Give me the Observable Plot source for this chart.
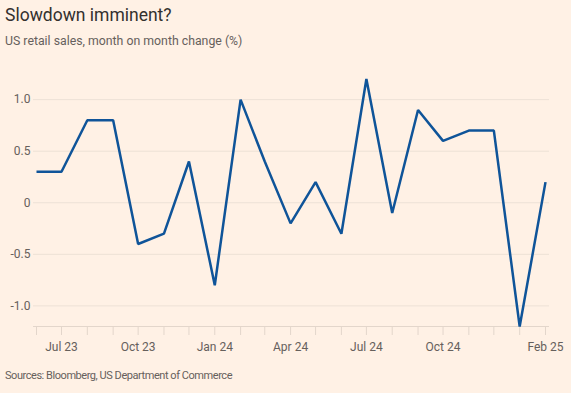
<!DOCTYPE html>
<html>
<head>
<meta charset="utf-8">
<script src="https://cdn.jsdelivr.net/npm/d3@7"></script>
<script src="https://cdn.jsdelivr.net/npm/@observablehq/plot@0.6"></script>
<style>
  html, body { margin: 0; padding: 0; background: #FFF1E5; }
  body { width: 571px; height: 393px; overflow: hidden; font-family: Roboto, "Open Sans", sans-serif; }
  #title { position: absolute; left: 5px; top: 5px; font-size: 17.5px; color: #33302E; }
  #subtitle { position: absolute; left: 5px; top: 34px; font-size: 12.3px; color: #66605C; }
  #chart { position: absolute; left: 0; top: 60px; }
  #caption { position: absolute; left: 5px; top: 369px; font-size: 11px; letter-spacing: -0.45px; color: #66605C; }
</style>
</head>
<body>
<div id="title">Slowdown imminent?</div>
<div id="subtitle">US retail sales, month on month change (%)</div>
<div id="chart"></div>
<div id="caption">Sources: Bloomberg, US Department of Commerce</div>
<script>
const months = ["2023-06","2023-07","2023-08","2023-09","2023-10","2023-11","2023-12",
  "2024-01","2024-02","2024-03","2024-04","2024-05","2024-06","2024-07","2024-08",
  "2024-09","2024-10","2024-11","2024-12","2025-01","2025-02"];
const values = [0.3, 0.3, 0.8, 0.8, -0.4, -0.3, 0.4, -0.8, 1.0, 0.4, -0.2, 0.2, -0.3, 1.2, -0.1, 0.9, 0.6, 0.7, 0.7, -1.2, 0.2];
const yTicks = [1.0, 0.5, 0, -0.5, -1.0];
const xLabelMonths = ["2023-07","2023-10","2024-01","2024-04","2024-07","2024-10","2025-02"];

const parse = d3.utcParse("%Y-%m");
const data = months.map((m, i) => ({date: parse(m), value: values[i]}));
const tickDates = months.map(parse);
const labelDates = xLabelMonths.map(parse);
const fmtY = d => d === 0 ? "0" : d.toFixed(1);

const chart = Plot.plot({
  width: 571,
  height: 300,
  marginLeft: 36,
  marginRight: 26,
  marginTop: 18.5,
  marginBottom: 34,
  style: {background: "transparent", fontFamily: "Roboto, 'Open Sans', sans-serif", fontSize: "12px", color: "#66605C"},
  x: {type: "utc", domain: [tickDates[0], tickDates[tickDates.length - 1]]},
  y: {domain: [-1.2, 1.2]},
  marks: [
    Plot.ruleY(yTicks, {stroke: "#EDE1D6", strokeWidth: 1, insetLeft: -3, insetRight: -4}),
    Plot.ruleY([-1.2], {stroke: "#E3D6CB", strokeWidth: 1, insetLeft: -3, insetRight: -4}),
    Plot.axisX({ticks: tickDates, tickSize: 9, tickFormat: () => "", stroke: "#E3D6CB", label: null}),
    Plot.axisX({ticks: labelDates, tickSize: 0, tickPadding: 16, tickFormat: d3.utcFormat("%b %y"), fill: "#66605C", label: null}),
    Plot.axisY({ticks: yTicks, tickSize: 0, tickPadding: 6, tickFormat: fmtY, fill: "#66605C", label: null}),
    Plot.line(data, {x: "date", y: "value", stroke: "#0F5499", strokeWidth: 2.5, strokeLinejoin: "miter", strokeLinecap: "butt"})
  ]
});
document.getElementById("chart").appendChild(chart);
</script>
</body>
</html>
